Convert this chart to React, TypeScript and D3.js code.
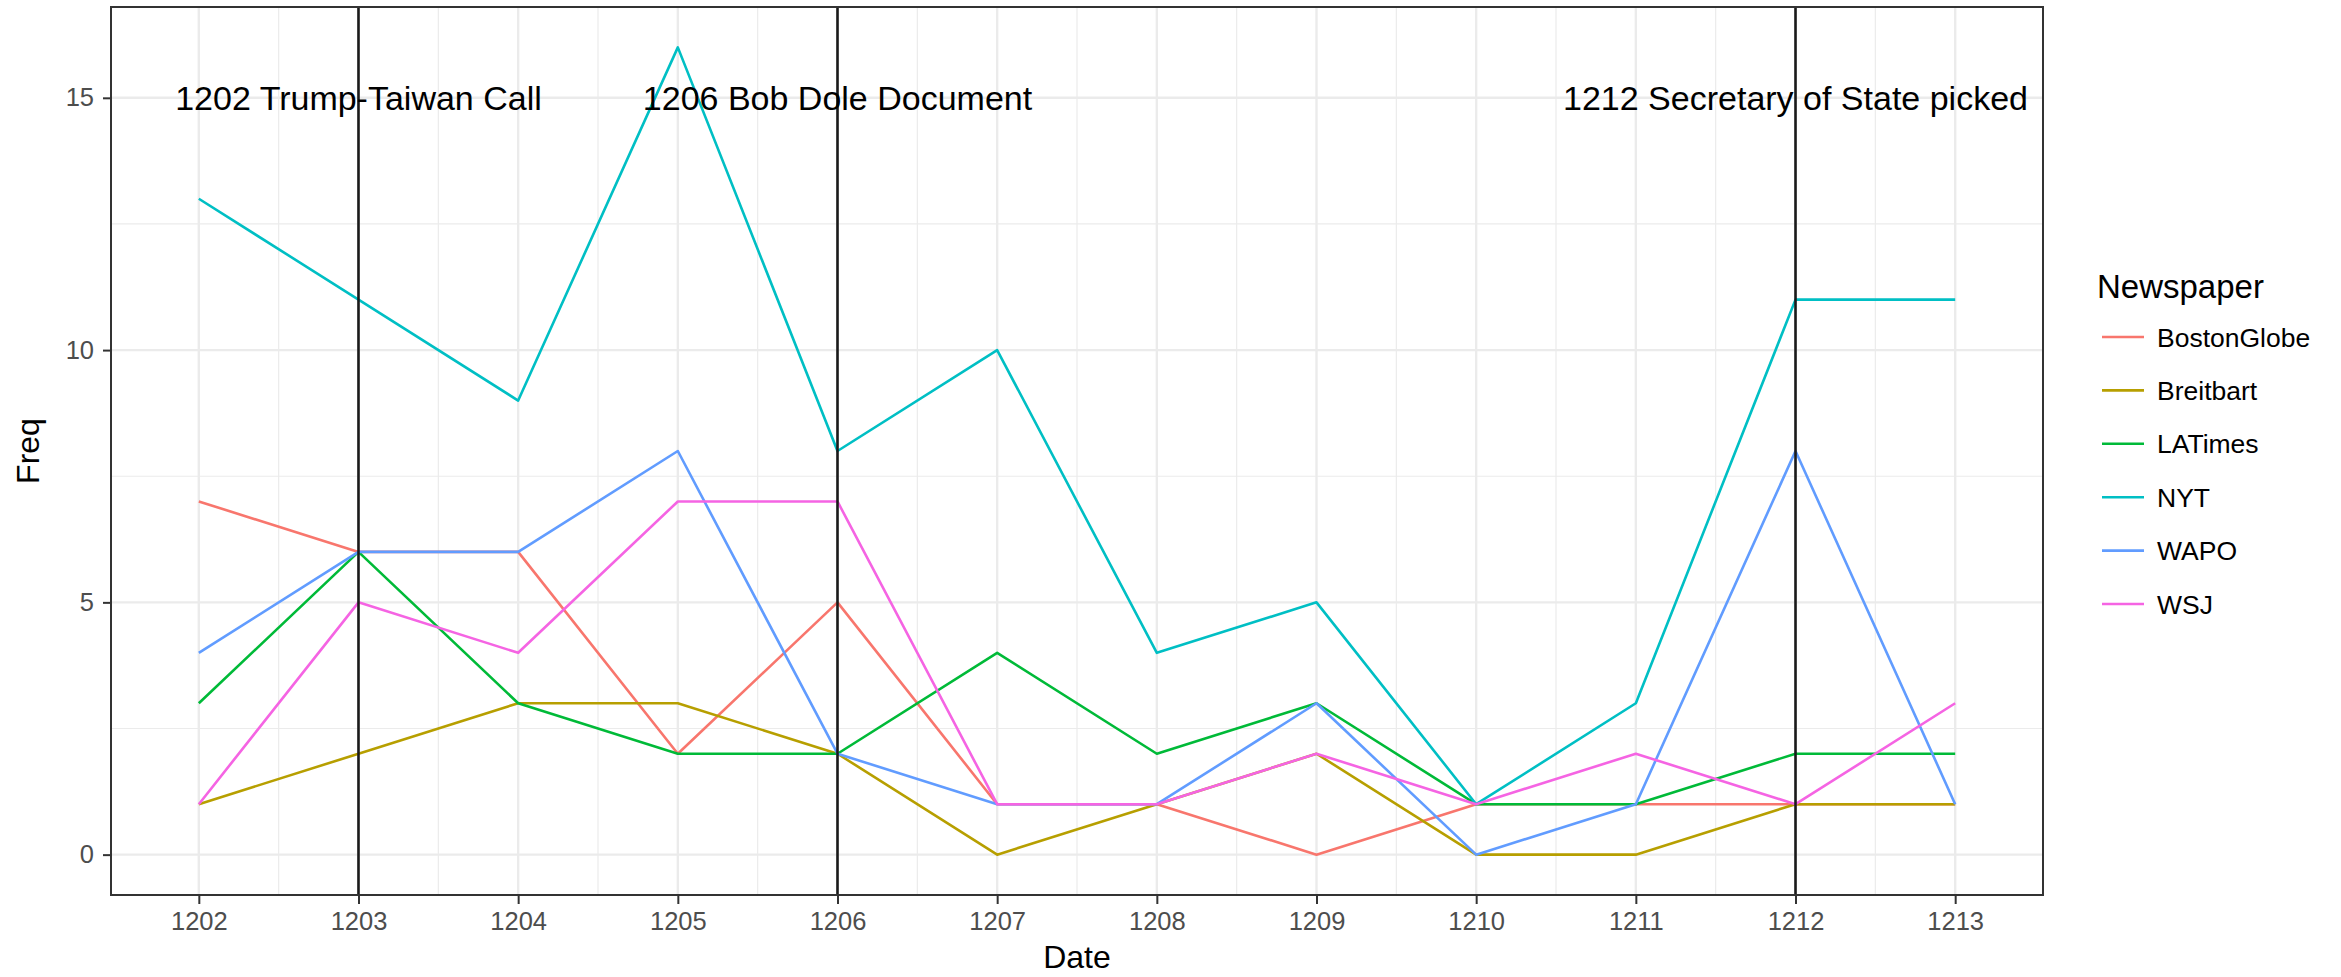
import React, { useEffect, useRef } from 'react';
import * as d3 from 'd3';

// values
const dates = [1202, 1203, 1204, 1205, 1206, 1207, 1208, 1209, 1210, 1211, 1212, 1213];
const bostonGlobe = [7, 6, 6, 2, 5, 1, 1, 0, 1, 1, 1, 1];
const breitbart = [1, 2, 3, 3, 2, 0, 1, 2, 0, 0, 1, 1];
const laTimes = [3, 6, 3, 2, 2, 4, 2, 3, 1, 1, 2, 2];
const nyt = [13, 11, 9, 16, 8, 10, 4, 5, 1, 3, 11, 11];
const wapo = [4, 6, 6, 8, 2, 1, 1, 3, 0, 1, 8, 1];
const wsj = [1, 5, 4, 7, 7, 1, 1, 2, 1, 2, 1, 3];

const papers = ['BostonGlobe', 'Breitbart', 'LATimes', 'NYT', 'WAPO', 'WSJ'];
const paperColors = ['#F8766D', '#B79F00', '#00BA38', '#00BFC4', '#619CFF', '#F564E3'];
const seriesValues = [bostonGlobe, breitbart, laTimes, nyt, wapo, wsj];

const yTicks = [0, 5, 10, 15];
const events = [1203, 1206, 1212];
const eventLabels = ['1202 Trump-Taiwan Call', '1206 Bob Dole Document', '1212 Secretary of State picked'];
const eventLabelY = 15;

const W = 2341;
const H = 977;
const FONT = '"Liberation Sans", Arial, Helvetica, sans-serif';

const App: React.FC = () => {
  const svgRef = useRef<SVGSVGElement>(null);

  useEffect(() => {
    if (!svgRef.current) return;
    const svg = d3.select(svgRef.current);
    svg.selectAll('*').remove();

    const panel = { left: 111, right: 2043, top: 7, bottom: 895 };

    const xMin = d3.min(dates)!;
    const xMax = d3.max(dates)!;
    const xPad = (xMax - xMin) * 0.05;
    const x = d3.scaleLinear()
      .domain([xMin - xPad, xMax + xPad])
      .range([panel.left, panel.right]);

    const yMax = d3.max(seriesValues.flat())!;
    const yPad = yMax * 0.05;
    const y = d3.scaleLinear()
      .domain([-yPad, yMax + yPad])
      .range([panel.bottom, panel.top]);

    svg.append('rect')
      .attr('width', W).attr('height', H).attr('fill', 'white');

    // grid
    const grid = svg.append('g');
    const xMinor = dates.slice(0, -1).map(d => d + 0.5);
    const yMinor = yTicks.slice(0, -1).map(d => d + 2.5);
    xMinor.forEach(d => {
      grid.append('line')
        .attr('x1', x(d)).attr('x2', x(d))
        .attr('y1', panel.top).attr('y2', panel.bottom)
        .attr('stroke', '#ebebeb').attr('stroke-width', 1.2);
    });
    yMinor.forEach(d => {
      grid.append('line')
        .attr('x1', panel.left).attr('x2', panel.right)
        .attr('y1', y(d)).attr('y2', y(d))
        .attr('stroke', '#ebebeb').attr('stroke-width', 1.2);
    });
    dates.forEach(d => {
      grid.append('line')
        .attr('x1', x(d)).attr('x2', x(d))
        .attr('y1', panel.top).attr('y2', panel.bottom)
        .attr('stroke', '#ebebeb').attr('stroke-width', 2.4);
    });
    yTicks.forEach(d => {
      grid.append('line')
        .attr('x1', panel.left).attr('x2', panel.right)
        .attr('y1', y(d)).attr('y2', y(d))
        .attr('stroke', '#ebebeb').attr('stroke-width', 2.4);
    });

    // series lines
    const line = d3.line<number>()
      .x((_, i) => x(dates[i]))
      .y(v => y(v));

    seriesValues.forEach((vals, i) => {
      svg.append('path')
        .datum(vals)
        .attr('d', line)
        .attr('fill', 'none')
        .attr('stroke', paperColors[i])
        .attr('stroke-width', 2.6)
        .attr('stroke-linejoin', 'round');
    });

    // event lines
    events.forEach(d => {
      svg.append('line')
        .attr('x1', x(d)).attr('x2', x(d))
        .attr('y1', panel.top).attr('y2', panel.bottom)
        .attr('stroke', '#1a1a1a').attr('stroke-width', 2.6);
    });

    // event labels
    events.forEach((d, i) => {
      svg.append('text')
        .attr('x', x(d))
        .attr('y', y(eventLabelY))
        .attr('dy', '0.36em')
        .attr('text-anchor', 'middle')
        .style('font-family', FONT)
        .style('font-size', '34px')
        .style('fill', 'black')
        .text(eventLabels[i]);
    });

    // panel border
    svg.append('rect')
      .attr('x', panel.left).attr('y', panel.top)
      .attr('width', panel.right - panel.left)
      .attr('height', panel.bottom - panel.top)
      .attr('fill', 'none')
      .attr('stroke', '#333333')
      .attr('stroke-width', 2);

    // x axis
    const xAxis = svg.append('g')
      .attr('transform', `translate(0,${panel.bottom})`)
      .call(d3.axisBottom(x).tickValues(dates).tickFormat(d => String(d)).tickSize(9).tickPadding(8));
    xAxis.select('.domain').remove();
    xAxis.selectAll('line').attr('stroke', '#333333').attr('stroke-width', 2);
    xAxis.selectAll('text')
      .style('font-family', FONT)
      .style('font-size', '25.5px')
      .style('fill', '#4d4d4d');

    // y axis
    const yAxis = svg.append('g')
      .attr('transform', `translate(${panel.left},0)`)
      .call(d3.axisLeft(y).tickValues(yTicks).tickSize(8).tickPadding(9));
    yAxis.select('.domain').remove();
    yAxis.selectAll('line').attr('stroke', '#333333').attr('stroke-width', 2);
    yAxis.selectAll('text')
      .style('font-family', FONT)
      .style('font-size', '25.5px')
      .style('fill', '#4d4d4d');

    // axis titles
    svg.append('text')
      .attr('x', (panel.left + panel.right) / 2)
      .attr('y', 968)
      .attr('text-anchor', 'middle')
      .style('font-family', FONT)
      .style('font-size', '32px')
      .style('fill', 'black')
      .text('Date');

    svg.append('text')
      .attr('transform', `translate(39,${(panel.top + panel.bottom) / 2}) rotate(-90)`)
      .attr('text-anchor', 'middle')
      .style('font-family', FONT)
      .style('font-size', '32px')
      .style('fill', 'black')
      .text('Freq');

    // legend
    const legend = svg.append('g').attr('transform', 'translate(2097,0)');
    legend.append('text')
      .attr('x', 0).attr('y', 298)
      .style('font-family', FONT)
      .style('font-size', '33px')
      .style('fill', 'black')
      .text('Newspaper');

    const rowY = d3.scaleLinear().domain([0, 1]).range([337, 337 + 53.4]);
    papers.forEach((p, i) => {
      const ry = rowY(i);
      legend.append('line')
        .attr('x1', 5).attr('x2', 47)
        .attr('y1', ry).attr('y2', ry)
        .attr('stroke', paperColors[i])
        .attr('stroke-width', 2.6);
      legend.append('text')
        .attr('x', 60).attr('y', ry + 9.5)
        .style('font-family', FONT)
        .style('font-size', '26.5px')
        .style('fill', 'black')
        .text(p);
    });
  }, []);

  return (
    <div style={{ position: 'absolute', left: 0, top: 0 }}>
      <svg ref={svgRef} width={W} height={H} style={{ display: 'block' }}></svg>
    </div>
  );
};

export default App;
